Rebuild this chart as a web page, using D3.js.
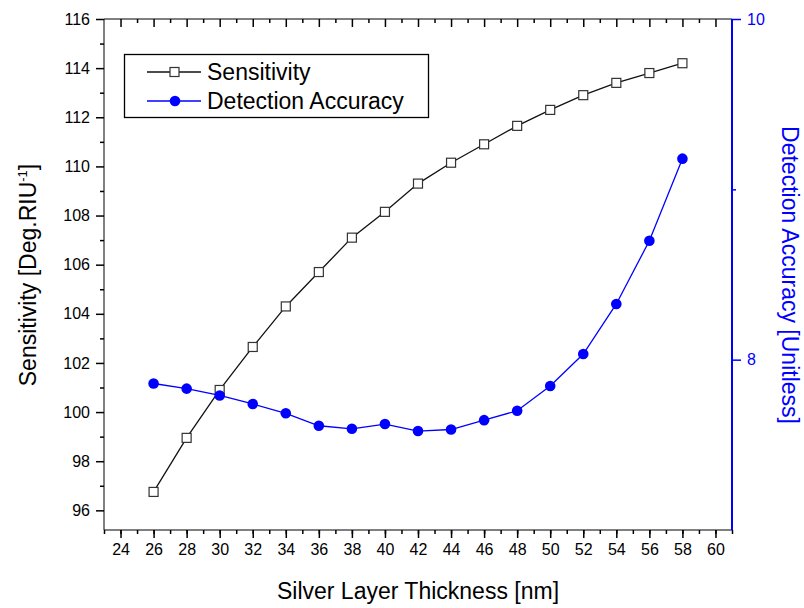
<!DOCTYPE html>
<html>
<head>
<meta charset="utf-8">
<script src="https://cdn.jsdelivr.net/npm/d3@7"></script>
<style>
  html, body { margin: 0; padding: 0; background: #fff; }
  svg { display: block; font-family: "Liberation Sans", Arial, sans-serif; }
</style>
</head>
<body>
<svg id="chart" width="804" height="608"></svg>
<script>
// Silver layer thickness (nm)
const thickness = [26, 28, 30, 32, 34, 36, 38, 40, 42, 44, 46, 48, 50, 52, 54, 56, 58];
// Sensitivity (Deg/RIU)
const sensitivity = [96.75, 98.95, 100.9, 102.65, 104.3, 105.7, 107.1, 108.15, 109.3, 110.15, 110.9, 111.65, 112.3, 112.9, 113.4, 113.8, 114.2];
// Detection accuracy (unitless)
const accuracy = [7.86, 7.83, 7.79, 7.74, 7.685, 7.612, 7.594, 7.622, 7.581, 7.59, 7.645, 7.70, 7.845, 8.033, 8.327, 8.698, 9.18];

const xTickLabels = d3.range(24, 61, 2);
const leftTickLabels = d3.range(96, 117, 2);
const rightTickLabels = [8, 10];

const BLUE = "#0000ff";
const svg = d3.select("#chart");

const x = d3.scaleLinear().domain([23, 61]).range([104, 732]);
const yL = d3.scaleLinear().domain([95.2, 116]).range([530, 19]);
const yR = d3.scaleLinear().domain([7, 10]).range([530, 19]);

// Bottom axis: labelled majors every 2 nm, minor ticks in between
svg.append("g")
  .attr("transform", "translate(0,530)")
  .call(d3.axisBottom(x).tickValues(d3.range(23, 62, 1)).tickSize(4).tickFormat(""))
  .call(g => g.select(".domain").remove());
svg.append("g")
  .attr("transform", "translate(0,530)")
  .call(d3.axisBottom(x).tickValues(xTickLabels).tickSize(8).tickPadding(6).tickFormat(d3.format("d")))
  .call(g => g.select(".domain").attr("d", "M104,0H732"))
  .call(g => g.selectAll("text").attr("font-size", 16).attr("fill", "#000"));

// Top axis: ticks pointing into the plot, no labels
svg.append("g")
  .attr("transform", "translate(0,19)")
  .call(d3.axisBottom(x).tickValues(d3.range(25, 61, 2)).tickSize(4).tickFormat(""))
  .call(g => g.select(".domain").remove());
svg.append("g")
  .attr("transform", "translate(0,19)")
  .call(d3.axisBottom(x).tickValues(xTickLabels).tickSize(8).tickFormat(""))
  .call(g => g.select(".domain").attr("d", "M104,0H732"));

// Left axis (sensitivity)
svg.append("g")
  .attr("transform", "translate(104,0)")
  .call(d3.axisLeft(yL).tickValues(d3.range(97, 116, 2)).tickSize(4).tickFormat(""))
  .call(g => g.select(".domain").remove());
svg.append("g")
  .attr("transform", "translate(104,0)")
  .call(d3.axisLeft(yL).tickValues(leftTickLabels).tickSize(8).tickPadding(6).tickFormat(d3.format("d")))
  .call(g => g.select(".domain").attr("d", "M0,19V530"))
  .call(g => g.selectAll("text").attr("font-size", 16).attr("fill", "#000"));

// Right axis (detection accuracy), blue
const rAxis = svg.append("g")
  .attr("transform", "translate(732,0)")
  .call(d3.axisRight(yR).tickValues([9]).tickSize(4).tickFormat(""))
  .call(g => g.select(".domain").remove());
rAxis.selectAll("line").attr("stroke", BLUE);
svg.append("g")
  .attr("transform", "translate(732,0)")
  .call(d3.axisRight(yR).tickValues(rightTickLabels).tickSize(9).tickPadding(6).tickFormat(d3.format("d")))
  .call(g => g.select(".domain").attr("d", "M0,19V530").attr("stroke", BLUE).attr("stroke-width", 2))
  .call(g => g.selectAll("line").attr("stroke", BLUE).attr("stroke-width", 1.5))
  .call(g => g.selectAll("text").attr("font-size", 16).attr("fill", BLUE));

svg.selectAll(".tick line").attr("stroke-width", 1.5);

// Axis titles
svg.append("text")
  .attr("x", 418).attr("y", 599)
  .attr("text-anchor", "middle").attr("font-size", 23).attr("fill", "#000")
  .text("Silver Layer Thickness [nm]");

const leftTitle = svg.append("text")
  .attr("transform", "translate(36,275) rotate(-90)")
  .attr("text-anchor", "middle").attr("font-size", 23).attr("fill", "#000");
leftTitle.append("tspan").text("Sensitivity [Deg.RIU");
leftTitle.append("tspan").attr("font-size", 13).attr("dy", -9).text("-1");
leftTitle.append("tspan").attr("dy", 9).text("]");

svg.append("text")
  .attr("transform", "translate(782,275) rotate(90)")
  .attr("text-anchor", "middle").attr("font-size", 23).attr("fill", BLUE)
  .text("Detection Accuracy [Unitless]");

// Sensitivity series: black line with open squares
const sensPts = thickness.map((t, i) => [t, sensitivity[i]]);
svg.append("path")
  .datum(sensPts)
  .attr("fill", "none").attr("stroke", "#111").attr("stroke-width", 1.3)
  .attr("d", d3.line().x(d => x(d[0])).y(d => yL(d[1])));
svg.append("g").selectAll("rect")
  .data(sensPts).join("rect")
  .attr("x", d => x(d[0]) - 4.5).attr("y", d => yL(d[1]) - 4.5)
  .attr("width", 9).attr("height", 9)
  .attr("fill", "#fff").attr("stroke", "#333").attr("stroke-width", 1.2);

// Detection accuracy series: blue line with filled circles
const accPts = thickness.map((t, i) => [t, accuracy[i]]);
svg.append("path")
  .datum(accPts)
  .attr("fill", "none").attr("stroke", BLUE).attr("stroke-width", 1.3)
  .attr("d", d3.line().x(d => x(d[0])).y(d => yR(d[1])));
svg.append("g").selectAll("circle")
  .data(accPts).join("circle")
  .attr("cx", d => x(d[0])).attr("cy", d => yR(d[1]))
  .attr("r", 5.3).attr("fill", BLUE);

// Legend
const legend = svg.append("g");
legend.append("rect")
  .attr("x", 124.5).attr("y", 54.5).attr("width", 304).attr("height", 63)
  .attr("fill", "#fff").attr("stroke", "#000").attr("stroke-width", 1.3);
legend.append("line").attr("x1", 147).attr("x2", 201).attr("y1", 72).attr("y2", 72)
  .attr("stroke", "#111").attr("stroke-width", 1.3);
legend.append("rect").attr("x", 170).attr("y", 67.5).attr("width", 9).attr("height", 9)
  .attr("fill", "#fff").attr("stroke", "#333").attr("stroke-width", 1.2);
legend.append("line").attr("x1", 147).attr("x2", 201).attr("y1", 101).attr("y2", 101)
  .attr("stroke", BLUE).attr("stroke-width", 1.3);
legend.append("circle").attr("cx", 175).attr("cy", 101).attr("r", 5.3).attr("fill", BLUE);
legend.append("text").attr("x", 207).attr("y", 80).attr("font-size", 23).attr("fill", "#000").text("Sensitivity");
legend.append("text").attr("x", 207).attr("y", 109).attr("font-size", 23).attr("fill", "#000").text("Detection Accuracy");
</script>
</body>
</html>
